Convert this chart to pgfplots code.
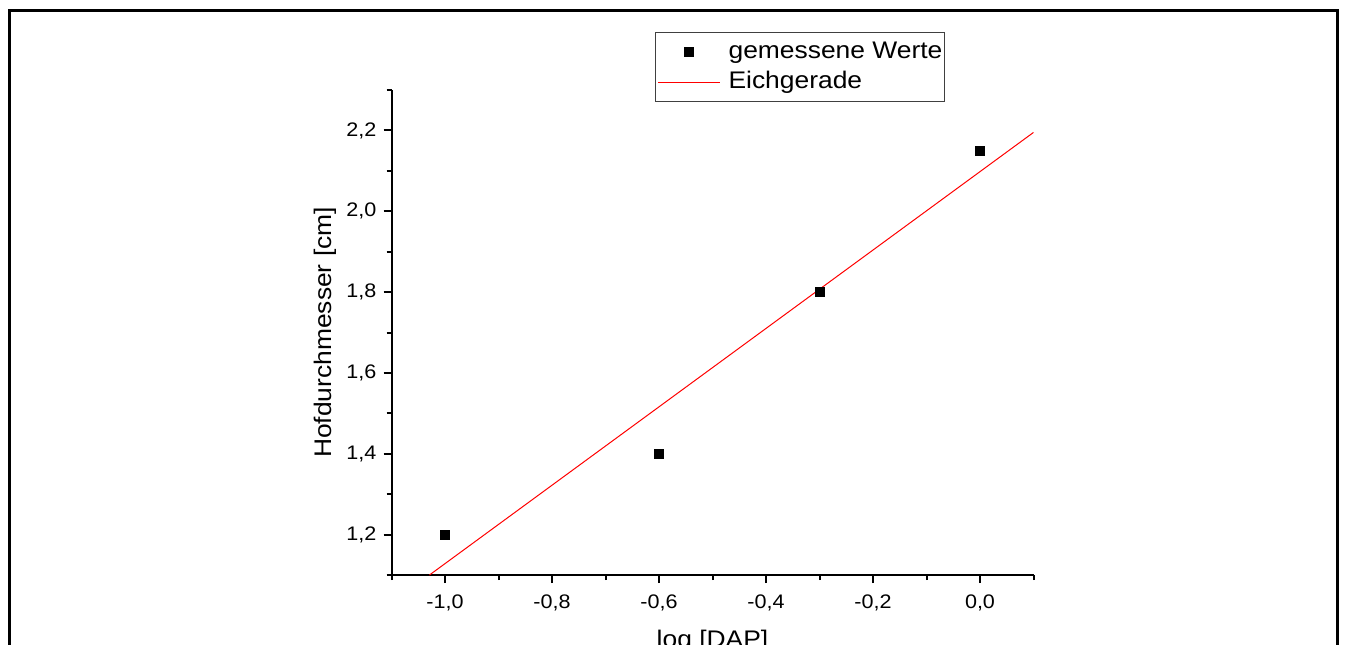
\documentclass[border=0pt]{standalone}
\usepackage{fontspec}
\setmainfont{Liberation Sans}[FakeStretch=1.1]
\usepackage{pgfplots}
\pgfplotsset{compat=1.18}
\begin{document}
\begin{tikzpicture}[x=0.5pt,y=0.5pt]
\useasboundingbox (0,0) rectangle (1346,644);
\draw[line width=1.5pt] (9.5,-20) -- (9.5,633) -- (1337.5,633) -- (1337.5,-20);
\begin{axis}[
  at={(195.75pt,34.5pt)}, anchor=south west,
  scale only axis, width=321pt, height=242.5pt,
  xmin=-1.1, xmax=0.1, ymin=1.1, ymax=2.3,
  axis x line*=bottom, axis y line*=left,
  axis line style={line width=1pt, black},
  xtick={-1,-0.8,-0.6,-0.4,-0.2,0},
  minor xtick={-1.1,-0.9,-0.7,-0.5,-0.3,-0.1,0.1},
  ytick={1.2,1.4,1.6,1.8,2.0,2.2},
  minor ytick={1.1,1.3,1.5,1.7,1.9,2.1,2.3},
  tick align=outside,
  major tick length=4pt, minor tick length=2.5pt,
  every tick/.style={black, line width=1pt},
  /pgf/number format/.cd, use comma, fixed, fixed zerofill, precision=1, assume math mode=true,
  /pgfplots/.cd,
  ticklabel style={font=\fontsize{9.8}{12}\selectfont},
  xticklabel style={yshift=-2.5pt},
  xlabel={log [DAP]},
  ylabel={Hofdurchmesser [cm]},
  label style={font=\fontsize{12}{14}\selectfont},
  xlabel style={at={(axis description cs:0.5,-0.1485)}, anchor=base, inner sep=0pt},
  ylabel style={at={(axis description cs:-0.0849,0.5)}, anchor=south, inner sep=0pt, rotate=0},
  legend image code/.code={\draw[mark repeat=2,mark phase=2,#1] plot coordinates {(0pt,0pt) (15.5pt,0pt) (31pt,0pt)};},
  legend style={at={(axis description cs:0.4104,1.1196)}, anchor=north west,
    draw=black!75, line width=0.6pt, inner xsep=1pt, inner ysep=3.75pt,
    font=\fontsize{12}{14}\selectfont,
    nodes={inner xsep=0pt, inner ysep=0pt, text height=9pt, text depth=3pt, anchor=west},
    column sep=4pt, row sep=3pt},
  legend cell align=left,
  clip=true,
]
\addplot[only marks, mark=square*, mark size=2.2pt, black, mark options={line width=0.4pt}]
  coordinates {(-1,1.2) (-0.6,1.4) (-0.3,1.8) (0,2.15)};
\addlegendentry{gemessene Werte}
\addplot[red, line width=0.5pt] coordinates {(-1.029,1.1) (0.1,2.195)};
\addlegendentry{Eichgerade}
\end{axis}
\end{tikzpicture}
\end{document}
